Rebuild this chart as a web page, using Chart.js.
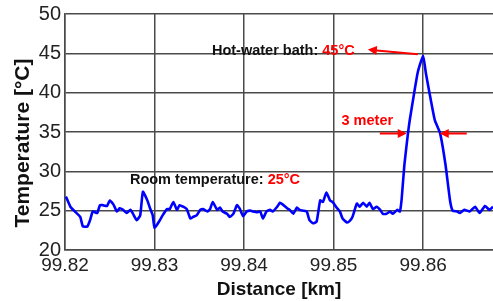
<!DOCTYPE html>
<html lang="en">
<head>
<meta charset="UTF-8">
<title>Temperature along the fibre</title>
<script src="https://cdn.jsdelivr.net/npm/chart.js@4.4.0/dist/chart.umd.min.js"></script>
<style>
  body { margin: 0; background: #fff; }
</style>
</head>
<body>
<canvas id="mychart" width="493" height="301"></canvas>

<script>
// distance along the fibre [km]
const distances = [
  99.8201, 99.8206, 99.8211, 99.8217, 99.8220, 99.8225, 99.8228, 99.8231, 99.8236, 99.8239,
  99.8242, 99.8247, 99.8250, 99.8254, 99.8258, 99.8261, 99.8265, 99.8269, 99.8273, 99.8276,
  99.8280, 99.8284, 99.8287, 99.8292, 99.8295, 99.8298, 99.8300, 99.8306, 99.8309, 99.8314,
  99.8317, 99.8321, 99.8325, 99.8328, 99.8332, 99.8336, 99.8340, 99.8343, 99.8347, 99.8351,
  99.8354, 99.8359, 99.8362, 99.8365, 99.8370, 99.8373, 99.8376, 99.8381, 99.8384, 99.8388,
  99.8392, 99.8395, 99.8399, 99.8403, 99.8407, 99.8410, 99.8414, 99.8418, 99.8421, 99.8425,
  99.8429, 99.8432, 99.8437, 99.8440, 99.8443, 99.8448, 99.8451, 99.8455, 99.8459, 99.8462,
  99.8466, 99.8470, 99.8473, 99.8477, 99.8481, 99.8485, 99.8488, 99.8492, 99.8496, 99.8499,
  99.8504, 99.8507, 99.8510, 99.8515, 99.8518, 99.8521, 99.8526, 99.8529, 99.8533, 99.8537,
  99.8540, 99.8544, 99.8548, 99.8552, 99.8555, 99.8559, 99.8563, 99.8566, 99.8571, 99.8574,
  99.8576, 99.8579, 99.8583, 99.8585, 99.8590, 99.8594, 99.8600, 99.8603, 99.8607, 99.8613,
  99.8619, 99.8625, 99.8630, 99.8633, 99.8638, 99.8641, 99.8646, 99.8652, 99.8658, 99.8663,
  99.8669, 99.8674, 99.8678
];
// measured temperature [°C]
const temps = [
  26.8, 25.5, 24.9, 24.2, 23.0, 23.0, 23.8, 24.9, 24.7, 25.7,
  25.7, 25.6, 26.3, 25.8, 24.9, 25.3, 25.1, 24.7, 25.1, 24.6,
  23.8, 24.4, 27.4, 26.3, 25.3, 24.4, 22.8, 23.8, 24.4, 25.2,
  25.2, 26.1, 25.1, 25.7, 25.5, 25.2, 24.0, 24.2, 24.4, 25.1,
  25.2, 24.9, 25.2, 26.1, 25.1, 25.4, 24.9, 24.6, 24.2, 24.6,
  25.7, 25.3, 24.3, 24.9, 25.0, 24.9, 24.8, 24.9, 24.0, 24.9,
  25.1, 24.9, 25.5, 26.0, 25.8, 25.3, 25.1, 24.6, 25.4, 25.1,
  25.0, 24.9, 23.8, 23.4, 23.6, 26.3, 26.1, 27.3, 26.3, 26.1,
  25.3, 24.9, 24.0, 23.5, 23.7, 24.2, 25.9, 25.5, 26.0, 25.5,
  26.0, 25.2, 25.5, 25.1, 24.6, 24.6, 24.9, 24.6, 25.1, 24.9,
  26.5, 30.8, 34.8, 36.5, 40.0, 42.6, 44.7, 42.5, 40.0, 36.5,
  34.8, 30.8, 26.3, 25.0, 24.9, 24.7, 25.1, 24.9, 25.5, 24.7,
  25.6, 25.1, 25.5
];
const xTicks = [99.82, 99.83, 99.84, 99.85, 99.86];
const yTicks = [20, 25, 30, 35, 40, 45, 50];

const gridColor = '#4a4a4a';
const noteFont = 'bold 14.5px "Liberation Sans", Arial, sans-serif';

// text notes and red arrows on top of the plot
const notes = {
  id: 'notes',
  afterDraw(chart) {
    const ctx = chart.ctx;
    const sx = chart.scales.x, sy = chart.scales.y;
    const px = v => sx.getPixelForValue(v);
    const py = v => sy.getPixelForValue(v);

    function label(parts, xv, yv) {
      let x = px(xv);
      const y = py(yv);
      ctx.font = noteFont;
      ctx.textAlign = 'left';
      ctx.textBaseline = 'alphabetic';
      parts.forEach(p => {
        ctx.fillStyle = p[1];
        ctx.fillText(p[0], x, y);
        x += ctx.measureText(p[0]).width;
      });
    }

    function arrow(x0v, y0v, x1v, y1v) {
      const x0 = px(x0v), y0 = py(y0v), x1 = px(x1v), y1 = py(y1v);
      const a = Math.atan2(y1 - y0, x1 - x0);
      const len = 9, half = 4.5;
      ctx.strokeStyle = 'red';
      ctx.fillStyle = 'red';
      ctx.lineWidth = 2;
      ctx.beginPath();
      ctx.moveTo(x0, y0);
      ctx.lineTo(x1 - Math.cos(a) * len * 0.7, y1 - Math.sin(a) * len * 0.7);
      ctx.stroke();
      ctx.beginPath();
      ctx.moveTo(x1, y1);
      ctx.lineTo(x1 - Math.cos(a) * len + Math.sin(a) * half, y1 - Math.sin(a) * len - Math.cos(a) * half);
      ctx.lineTo(x1 - Math.cos(a) * len - Math.sin(a) * half, y1 - Math.sin(a) * len + Math.cos(a) * half);
      ctx.closePath();
      ctx.fill();
    }

    ctx.save();
    label([['Hot-water bath: ', '#111'], ['45°C', 'red']], 99.83641, 44.81);
    label([['3 meter', 'red']], 99.85088, 35.95);
    label([['Room temperature: ', '#111'], ['25°C', 'red']], 99.82725, 28.35);

    arrow(99.85940, 44.87, 99.85382, 45.48);
    arrow(99.85516, 34.81, 99.85817, 34.81);
    arrow(99.86487, 34.81, 99.86185, 34.81);

    // y axis title, placed by hand like the original figure
    ctx.translate(23, 143);
    ctx.rotate(-Math.PI / 2);
    ctx.font = 'bold 21px "Liberation Sans", Arial, sans-serif';
    ctx.fillStyle = '#111';
    ctx.textAlign = 'center';
    ctx.textBaseline = 'middle';
    ctx.fillText('Temperature [°C]', 0, 0);
    ctx.restore();
  }
};

const data = {
  datasets: [{
    label: 'Temperature',
    data: distances.map((d, i) => ({ x: d, y: temps[i] })),
    borderColor: '#0000ff',
    borderWidth: 2.6,
    pointRadius: 0,
    tension: 0.15,
    fill: false
  }]
};

const config = {
  type: 'line',
  data: data,
  options: {
    responsive: false,
    animation: false,
    layout: { padding: { top: 13, right: 0, bottom: 0, left: 0 } },
    plugins: {
      legend: { display: false },
      tooltip: { enabled: false }
    },
    scales: {
      x: {
        type: 'linear',
        min: 99.82,
        max: 99.8678,
        afterBuildTicks: s => { s.ticks = xTicks.map(v => ({ value: v })); },
        afterFit: s => { s.height = 51; },
        grid: { color: gridColor, lineWidth: 1.5, drawTicks: false },
        border: { color: gridColor, width: 1.5 },
        ticks: {
          autoSkip: false,
          maxRotation: 0,
          padding: 4,
          color: '#222',
          font: { family: '"Liberation Sans", Arial, sans-serif', size: 19 },
          callback: v => v.toFixed(2)
        },
        title: {
          display: true,
          text: 'Distance [km]',
          color: '#111',
          padding: 0,
          font: { family: '"Liberation Sans", Arial, sans-serif', size: 19, weight: 'bold' }
        }
      },
      y: {
        min: 20,
        max: 50,
        afterBuildTicks: s => { s.ticks = yTicks.map(v => ({ value: v })); },
        afterFit: s => { s.width = 65; },
        grid: { color: gridColor, lineWidth: 1.5, drawTicks: false },
        border: { color: gridColor, width: 1.5 },
        ticks: {
          padding: 4,
          color: '#222',
          font: { family: '"Liberation Sans", Arial, sans-serif', size: 20, lineHeight: 1 }
        }
      }
    }
  },
  plugins: [notes]
};

new Chart(document.getElementById('mychart'), config);
</script>
</body>
</html>
